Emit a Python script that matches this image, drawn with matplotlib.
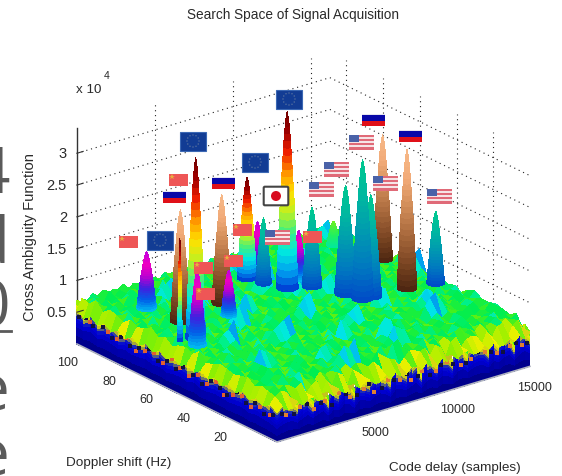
import numpy as np
import matplotlib
matplotlib.use('Agg')
import matplotlib.pyplot as plt
from matplotlib.colors import LinearSegmentedColormap
from matplotlib.patches import Rectangle, Circle, FancyBboxPatch
from mpl_toolkits.mplot3d import proj3d

# ---- data ----
x_max = 16200
y_max = 109
z_max = 3.4
x_ticks = [5000, 10000, 15000]
y_ticks = [20, 40, 60, 80, 100]
z_ticks = [0.5, 1, 1.5, 2, 2.5, 3]
z_labels = ['0.5', '1', '1.5', '2', '2.5', '3']

peak_code = [15700, 14900, 2350, 9450, 9010, 8780, 5750, 2630, 1850, 9590, 10800, 10710, 11450, 12240, 11720, 15870, 14320, 5025, 1360, 1010]
peak_doppler = [76, 96, 91, 91, 84, 91, 79, 75, 60, 76, 80, 72, 60, 53, 53, 48.5, 51, 69, 55, 61.5]
peak_height = [2.61, 1.02, 1.54, 1.49, 1.68, 2.23, 2.35, 2.4, 3.49, 3.42, 1.41, 1.88, 2.35, 2.24, 2.83, 1.78, 2.83, 1.36, 1.84, 2.25]
peak_kind = ['copper', 'lime', 'magenta', 'magenta', 'teal', 'jet', 'copper', 'copper', 'jet', 'jet', 'magenta', 'teal', 'teal', 'teal', 'teal', 'teal', 'copper', 'magenta', 'magenta', 'jet']
peak_width = [1, .7, 1, .8, .8, 1, 1, 1, 1, 1.1, .8, 1, 1.1, 1.1, 1.1, .9, 1, .8, .9, .25]

# silhouette shared by the spikes
profile_frac = [0, .04, .08, .12, .16, .2, .24, .28, .32, .36, .4, .44, .48, .52, .56, .6, .64, .68, .72, .76, .8, .84, .88, .92, .96, 1]
profile_rad = [1, .97, .94, .91, .88, .85, .82, .79, .76, .73, .7, .67, .64, .61, .57, .53, .49, .45, .41, .37, .33, .29, .24, .18, .11, 0]

# floor heights, one character per cell, rows run from doppler 0 to the back
floor_levels = {'y': .46, 'x': .54, '0': .63, '1': .66, '2': .69, '3': .72, '4': .76, '6': .82, '7': .87, '8': .93, '9': 1.0}
floor_rows = [
    'yxyyxyxxyy xyxyyxyxxy yxyxyyxxyx yyxyxyxxyy xyxyyxyxyx',
    'x021x13x02 y0x31y20x1 30y21x03y1 2x20y13x01 0y1x23y02x',
    'y130214621 0312413021 3142067310 2413021341 2031240213',
    'x213042312 1402136879 3120421302 1340213042 1302134021',
    'y024132041 3102413021 4213012487 6302142130 2413012042',
    'x312041302 4130267312 0421302413 0213420131 0423102143',
    'y203142130 2140213041 3102413068 7420131024 1302134012',
    'x130248763 1024130213 4021302413 0214302168 9731024132',
    'y241302134 0213041320 1428731024 1302413021 3402130214',
    'x302130412 3102431021 3041302413 0213402134 6871302413',
    'y130421302 4130213402 1302413678 3021340213 0413021340',
    'x021340213 0413678930 2134021302 4130213041 3021304132',
    'y413021340 2130413021 3402131024 3102168720 1340213041',
    'x130213679 3041302134 0213041302 1340213041 3678213021',
    'y302140213 0413021340 2136893021 3041302134 0213041302',
    'x213041302 1340213041 3021340213 0413678302 1340213041',
    'y041321340 2137892130 4130213402 1304130213 4021304789',
    'x320413021 3402130413 0213402130 4678130213 0413021340',
    'y134021304 1302134687 2134021304 1302134021 3041302134',
    'x402130413 0213402130 4130213678 9021304130 2134021304',
    'y213041678 2134021304 1302134021 3041302134 0678304130',
    'x130421340 2130413021 3402678130 4130213402 1304130213',
    'y302134021 3046871340 2130413021 3402130413 0213402137',
    'x041302134 0213041302 1340213689 2134021304 1302134021',
    'y213402130 4130213402 1304130213 4021304678 1340213041',
    'x340213041 3678213041 3021340213 0413021340 2130413021',
    'y021304132 0134021304 1302678402 1304130213 4021340213',
    'x413021340 2130413021 3402130413 0213402130 4130678213',
    'y132041302 1340213041 3021340213 0413021340 2130413021',
    'x203130213 0213120312 0213103120 2130213021 3012031201',
]

# orange and black flecks along the two front faces
fleck_x_edge = [600, 1500, 2400, 3100, 4000, 4700, 5600, 6200, 7100, 7900, 8600, 9300, 10200, 10900, 11800, 12400, 13300, 14100, 14900, 15700]
fleck_x_z = [.38, .44, .34, .41, .47, .36, .42, .33, .45, .39, .35, .43, .37, .46, .34, .4, .44, .36, .42, .38]
fleck_y_edge = [4, 9, 14, 19, 24, 29, 33, 38, 43, 48, 53, 57, 62, 67, 72, 77, 82, 87, 92, 97, 102, 106]
fleck_y_z = [.37, .43, .35, .46, .4, .33, .48, .38, .44, .36, .42, .5, .37, .45, .41, .34, .47, .39, .43, .52, .45, .5]
dark_x_edge = [300, 1100, 1900, 2800, 3500, 4400, 5100, 5900, 6700, 7500, 8300, 9000, 9800, 10500, 11300, 12100, 12900, 13700, 14500, 15300, 16000]
dark_x_z = [.42, .36, .46, .4, .33, .43, .37, .48, .35, .42, .46, .38, .34, .44, .4, .36, .47, .41, .35, .44, .39]
dark_y_edge = [2, 7, 12, 17, 22, 27, 31, 36, 41, 46, 51, 55, 60, 65, 70, 75, 80, 85, 90, 95, 100, 104, 108]
dark_y_z = [.4, .34, .44, .38, .47, .36, .41, .45, .34, .4, .46, .37, .43, .35, .48, .42, .38, .45, .36, .46, .41, .48, .44]

# flags, centre in picture pixels
eu_x = [193, 255, 289, 160]
eu_y = [142, 163, 100, 241]
cn_x = [178, 128, 242, 203, 233, 205, 312]
cn_y = [181, 243, 231, 269, 262, 295, 238]
ru_x = [174, 223, 373, 410]
ru_y = [198, 184, 121, 137]
us_x = [277, 321, 336, 361, 385, 439]
us_y = [238, 190, 170, 143, 184, 197]
jp_x = [276]
jp_y = [197]

y_tick_text = ['100', '80', '60', '40', '20']
y_tick_px = [(68, 363), (109, 382), (146, 400), (184, 419), (220, 438)]
x_tick_text = ['5000', '10000', '15000']
x_tick_px = [(375, 433), (458, 410), (535, 388)]

# ---- colour maps ----
maps = {
    'jet': LinearSegmentedColormap.from_list('j', ['#0030d0', '#00a0f0', '#00e8e0', '#40f080', '#c0f020', '#ffe000', '#ff9000', '#f02000', '#a00000', '#700000']),
    'copper': LinearSegmentedColormap.from_list('c', ['#4a2410', '#7a4522', '#a8683c', '#d08c58', '#f2ab78', '#f6b888']),
    'teal': LinearSegmentedColormap.from_list('t', ['#0048c8', '#0078c0', '#009ab0', '#00b8a0', '#00c890']),
    'magenta': LinearSegmentedColormap.from_list('m', ['#00c0f0', '#0060e8', '#4020e0', '#c000d0', '#f000c0', '#c000e0']),
    'lime': LinearSegmentedColormap.from_list('l', ['#00e8a0', '#20f060', '#70f020']),
}
# floor colours by height, this one runs over 0 to 1.2
floor_map = LinearSegmentedColormap.from_list('f', [
    (0, '#00008c'), (.27, '#0000d8'), (.33, '#1020c0'), (.38, '#c0c020'), (.45, '#f0f000'),
    (.5, '#90f000'), (.54, '#40f020'), (.58, '#00ee50'), (.62, '#00f090'), (.67, '#00e8e8'),
    (.75, '#0090f0'), (.83, '#0040d0'), (1, '#0030c0')])

fig = plt.figure(figsize=(5.62, 4.77), dpi=100, facecolor='white')
plt.rcParams['font.family'] = ['Liberation Sans', 'DejaVu Sans']

ax = fig.add_axes([.1, .1, .8, .9], projection='3d', proj_type='ortho', computed_zorder=False)
ax.set_xlim(0, x_max)
ax.set_ylim(0, y_max)
ax.set_zlim(0, z_max)
ax.view_init(elev=22.5, azim=-128)
ax.set_box_aspect((321, 325, 234))
ax.set_axis_off()
ax.patch.set_alpha(0)


def to_px(x, y, z):
    X, Y, _ = proj3d.proj_transform(x, y, z, ax.get_proj())
    return ax.transData.transform((X, Y))


# fit the box onto the corners seen in the reference
size = 400.0
left, bottom = 80.0, 40.0
for i in range(3):
    ax.set_position([left / 562, bottom / 477, size / 562, size / 477])
    ax.apply_aspect()
    right = to_px(x_max, 0, 0)
    back_left = to_px(0, y_max, 0)
    size = size * 453.0 / (right[0] - back_left[0])
    ax.set_position([left / 562, bottom / 477, size / 562, size / 477])
    ax.apply_aspect()
    front = to_px(0, 0, 0)
    left += 277 - front[0]
    bottom += (477 - 443) - front[1]
ax.set_position([left / 562, bottom / 477, size / 562, size / 477])
ax.apply_aspect()

# dotted walls
dots = dict(color='#222222', lw=.8, ls=(0, (1, 3.4)), zorder=0)
for z in z_ticks:
    ax.plot([0, x_max, x_max], [y_max, y_max, 0], [z, z, z], **dots)
for x in x_ticks:
    ax.plot([x, x], [y_max, y_max], [0, z_max], **dots)
for y in y_ticks:
    ax.plot([x_max, x_max], [y, y], [0, z_max], **dots)

# z axis and short ticks
ax.plot([0, 0], [y_max, y_max], [.03, z_max], color='#333333', lw=1, zorder=1)
for z in z_ticks:
    ax.plot([0, 400], [y_max, y_max], [z, z], color='#333333', lw=.8, zorder=6)

floor_z = np.array([[floor_levels[c] for c in row.replace(' ', '')] for row in floor_rows])

# front faces under the floor
rows, cols = floor_z.shape
grid_x = np.linspace(0, x_max, cols)
grid_y = np.linspace(0, y_max, rows)
levels = np.array([0, .2, .4, .5, .58, .65, .72, .8, .9, 1])
top_x = floor_z[1]
top_y = floor_z[:, 1]
Zx = np.outer(levels, top_x)
ax.plot_surface(np.tile(grid_x, (len(levels), 1)), np.zeros_like(Zx), Zx, rstride=1, cstride=1,
                facecolors=floor_map(Zx[:-1, :-1] / 1.2), shade=False, linewidth=0, antialiased=False, zorder=2)
Zy = np.outer(levels, top_y)
ax.plot_surface(np.zeros_like(Zy), np.tile(grid_y, (len(levels), 1)), Zy, rstride=1, cstride=1,
                facecolors=floor_map(Zy[:-1, :-1] / 1.2), shade=False, linewidth=0, antialiased=False, zorder=2)
ax.scatter(fleck_x_edge, np.zeros(len(fleck_x_edge)), fleck_x_z, s=5, c='#e08030', marker='s', linewidths=0, zorder=3, depthshade=False)
ax.scatter(np.zeros(len(fleck_y_edge)), fleck_y_edge, fleck_y_z, s=6, c='#e06030', marker='s', linewidths=0, zorder=3, depthshade=False)
ax.scatter(dark_x_edge, np.zeros(len(dark_x_edge)), dark_x_z, s=5, c='#101040', marker='s', linewidths=0, zorder=3, depthshade=False)
ax.scatter(np.zeros(len(dark_y_edge)), dark_y_edge, dark_y_z, s=6, c='#101040', marker='s', linewidths=0, zorder=3, depthshade=False)

# floor
GX, GY = np.meshgrid(grid_x, grid_y)
cell_z = (floor_z[:-1, :-1] + floor_z[1:, 1:]) / 2
ax.plot_surface(GX, GY, floor_z, rstride=1, cstride=1, facecolors=floor_map(cell_z / 1.2),
                shade=False, linewidth=0, antialiased=False, zorder=4)

# bottom box edges, light line under the block
ax.plot([0, 0, x_max], [y_max, 0, 0], [0, 0, 0], color='#b0b4c0', lw=1.2, zorder=5)

# spikes, back to front
order = np.argsort([-(peak_code[i] / x_max * .62 + peak_doppler[i] / y_max * .79) for i in range(len(peak_code))])
angles = np.linspace(0, 2 * np.pi, 17)
frac = np.array(profile_frac)
rad = np.array(profile_rad)
for n, i in enumerate(order):
    h0 = 0.65
    zz = h0 + frac * (peak_height[i] - h0)
    r = rad * peak_width[i] * .031
    Px = peak_code[i] + np.outer(r, np.cos(angles)) * x_max
    Py = peak_doppler[i] + np.outer(r, np.sin(angles)) * y_max
    Pz = np.tile(zz, (len(angles), 1)).T
    cols_p = maps[peak_kind[i]](np.tile(frac[:-1] + .02, (len(angles) - 1, 1)).T)
    ax.plot_surface(Px, Py, Pz, rstride=1, cstride=1, facecolors=cols_p, shade=False,
                    linewidth=0, antialiased=False, zorder=10 + n)

# ---- everything flat goes on a pixel overlay ----
ov = fig.add_axes([0, 0, 1, 1], zorder=5)
ov.set_xlim(0, 562)
ov.set_ylim(477, 0)
ov.axis('off')
ov.patch.set_alpha(0)


def flag_eu(cx, cy):
    ov.add_patch(Rectangle((cx - 13, cy - 9.5), 26, 19, fc='#123c94', ec='#3b68b4', lw=.8))
    for a in np.linspace(0, 2 * np.pi, 13)[:-1]:
        ov.add_patch(Circle((cx + 6 * np.cos(a), cy + 6 * np.sin(a)), .55, fc='#8a98a8', ec='none'))


def flag_cn(cx, cy):
    ov.add_patch(Rectangle((cx - 9.5, cy - 6), 19, 12, fc='#ee5656', ec='none'))
    ov.plot(cx - 6, cy - 3, marker='*', ms=4, color='#e8b040', mew=0)


def flag_ru(cx, cy):
    ov.add_patch(Rectangle((cx - 11.5, cy - 6), 23, 12, fc='#e6e6f0', ec='none'))
    ov.add_patch(Rectangle((cx - 11.5, cy - 5), 23, 5.5, fc='#0808a8', ec='none'))
    ov.add_patch(Rectangle((cx - 11.5, cy + .5), 23, 5.5, fc='#e01018', ec='none'))


def flag_us(cx, cy):
    for s in range(7):
        ov.add_patch(Rectangle((cx - 12.5, cy - 7.5 + s * 15 / 7), 25, 15 / 7,
                               fc='#e06a78' if s % 2 == 0 else '#f6e4e6', ec='none'))
    ov.add_patch(Rectangle((cx - 12.5, cy - 7.5), 10, 7.5, fc='#4a62a8', ec='none'))


def flag_jp(cx, cy):
    ov.add_patch(FancyBboxPatch((cx - 12, cy - 9), 24, 18, boxstyle='round,pad=0.3,rounding_size=1.2',
                                fc='white', ec='#444444', lw=1.5))
    ov.add_patch(Circle((cx, cy), 5, fc='#d80c20', ec='none'))


for a, b in zip(eu_x, eu_y):
    flag_eu(a, b)
for a, b in zip(cn_x, cn_y):
    flag_cn(a, b)
for a, b in zip(ru_x, ru_y):
    flag_ru(a, b)
for a, b in zip(us_x, us_y):
    flag_us(a, b)
for a, b in zip(jp_x, jp_y):
    flag_jp(a, b)

# labels
txt = '#2a2a2a'
ov.text(293, 15, 'Search Space of Signal Acquisition', ha='center', va='center', fontsize=9.8, color=txt)
ov.text(76, 90, 'x 10', ha='left', va='center', fontsize=9.6, color=txt)
ov.text(104, 76, '4', ha='left', va='center', fontsize=7.5, color=txt)
ov.text(30, 237, 'Cross Ambiguity Function', rotation=90, ha='center', va='center', fontsize=10.6, color=txt)
ov.text(66, 463, 'Doppler shift (Hz)', ha='left', va='center', fontsize=9.7, color=txt)
ov.text(389, 468, 'Code delay (samples)', ha='left', va='center', fontsize=9.7, color=txt)
for lab, z in zip(z_labels, z_ticks):
    p = to_px(0, y_max, z)
    ov.text(p[0] - 10, 477 - p[1], lab, ha='right', va='center', fontsize=10.5, color=txt)
for lab, (a, b) in zip(y_tick_text, y_tick_px):
    ov.text(a, b, lab, ha='center', va='center', fontsize=9, color=txt)
for lab, (a, b) in zip(x_tick_text, x_tick_px):
    ov.text(a, b, lab, ha='center', va='center', fontsize=9, color=txt)

# the slide text cut off at the left edge
big = '#5a5a5a'
ov.text(10, 193, '4', ha='right', va='baseline', fontsize=46, color=big, family='Open Sans')
ov.text(9, 263, 'd', ha='right', va='baseline', fontsize=46, color=big, family='Open Sans')
ov.text(10, 327, '0', ha='right', va='baseline', fontsize=46, color=big, family='Open Sans')
ov.plot([0, 11], [332, 332], color=big, lw=2)
ov.text(9, 411, 'e', ha='right', va='baseline', fontsize=46, color=big, family='Open Sans')
ov.text(9, 476, 'e', ha='right', va='baseline', fontsize=46, color=big, family='Open Sans')

fig.savefig('out.png', dpi=100)
